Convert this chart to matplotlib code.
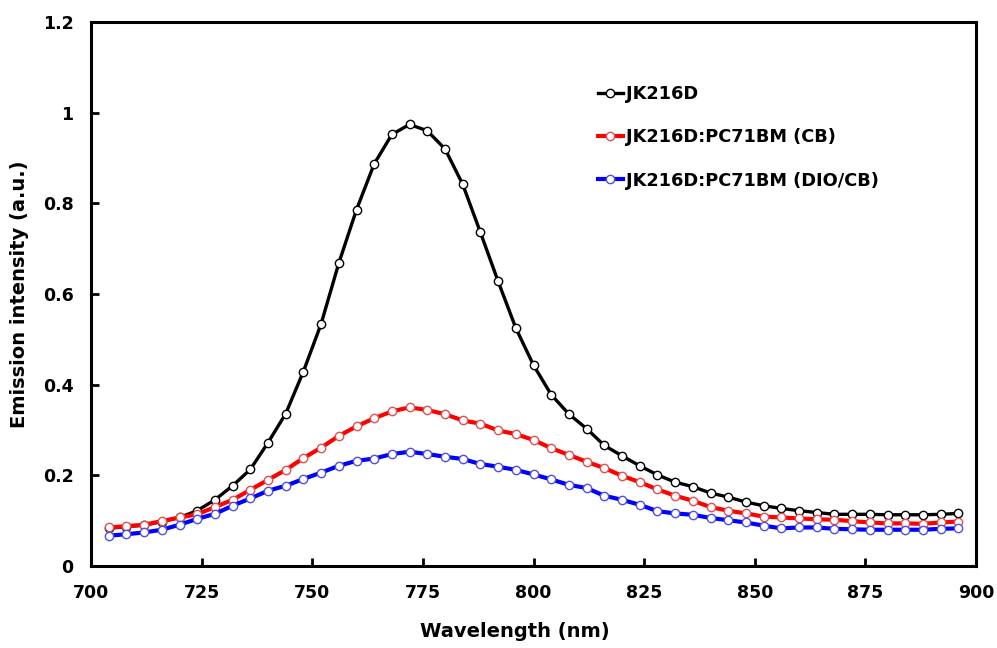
import matplotlib
matplotlib.use("Agg")
import matplotlib.pyplot as plt
from matplotlib.ticker import FixedLocator, FixedFormatter

plt.rcParams['font.family'] = ['DejaVu Sans']
plt.rcParams['font.weight'] = 'bold'

wavelength = list(range(704, 897, 4))

jk216d = [0.083, 0.087, 0.090, 0.098, 0.107, 0.122, 0.146, 0.177, 0.213, 0.272,
          0.336, 0.429, 0.534, 0.668, 0.786, 0.887, 0.952, 0.974, 0.960, 0.920,
          0.842, 0.736, 0.628, 0.525, 0.443, 0.378, 0.335, 0.303, 0.266, 0.243,
          0.221, 0.201, 0.185, 0.175, 0.161, 0.152, 0.141, 0.133, 0.127, 0.122,
          0.118, 0.114, 0.114, 0.114, 0.113, 0.113, 0.113, 0.114, 0.116]

jk_cb = [0.085, 0.088, 0.091, 0.099, 0.107, 0.114, 0.130, 0.146, 0.168, 0.190,
         0.212, 0.238, 0.261, 0.287, 0.308, 0.326, 0.341, 0.350, 0.344, 0.335,
         0.321, 0.314, 0.299, 0.291, 0.278, 0.260, 0.245, 0.230, 0.216, 0.199,
         0.185, 0.169, 0.155, 0.144, 0.130, 0.122, 0.116, 0.109, 0.107, 0.105,
         0.103, 0.102, 0.099, 0.096, 0.094, 0.094, 0.093, 0.096, 0.098]

jk_dio = [0.067, 0.070, 0.074, 0.080, 0.091, 0.104, 0.115, 0.133, 0.149, 0.166,
          0.177, 0.192, 0.206, 0.221, 0.232, 0.237, 0.247, 0.252, 0.247, 0.241,
          0.236, 0.225, 0.219, 0.212, 0.202, 0.191, 0.179, 0.172, 0.155, 0.146,
          0.135, 0.121, 0.116, 0.113, 0.106, 0.101, 0.096, 0.089, 0.083, 0.085,
          0.085, 0.082, 0.081, 0.080, 0.080, 0.080, 0.080, 0.082, 0.083]

labels = ["JK216D", "JK216D:PC71BM (CB)", "JK216D:PC71BM (DIO/CB)"]
x_ticks = [700, 725, 750, 775, 800, 825, 850, 875, 900]
y_ticks = [0, 0.2, 0.4, 0.6, 0.8, 1.0, 1.2]
y_tick_labels = ["0", "0.2", "0.4", "0.6", "0.8", "1", "1.2"]

fig = plt.figure(figsize=(9.97, 6.48), dpi=100)
ax = fig.add_axes([91/997, 82/648, 885/997, 544/648])

series = [(jk216d, '#000000', '#000000', 2.4),
          (jk_cb, '#ff0000', '#e05050', 3.0),
          (jk_dio, '#0000ff', '#5050e0', 3.0)]
for (ys, col, mec, lw), lab in zip(series, labels):
    ax.plot(wavelength, ys, color=col, lw=lw, marker='o', markersize=6,
            markerfacecolor='white', markeredgecolor=mec, markeredgewidth=1.0,
            label=lab)

ax.set_xlim(700, 900)
ax.set_ylim(0, 1.2)
ax.xaxis.set_major_locator(FixedLocator(x_ticks))
ax.yaxis.set_major_locator(FixedLocator(y_ticks))
ax.yaxis.set_major_formatter(FixedFormatter(y_tick_labels))
ax.tick_params(direction='in', length=6, width=2, labelsize=12.5)
ax.tick_params(axis='x', pad=13)
ax.tick_params(axis='y', pad=12.5)
for lbl in ax.get_xticklabels() + ax.get_yticklabels():
    lbl.set_fontweight('bold')
for sp in ax.spines.values():
    sp.set_linewidth(2.2)

ax.set_xlabel("Wavelength (nm)", fontsize=14, fontweight='bold')
ax.xaxis.set_label_coords(0.479, -0.103)
ax.set_ylabel("Emission intensity (a.u.)", fontsize=14, fontweight='bold', labelpad=10)

leg = ax.legend(loc='upper left', bbox_to_anchor=(0.5725, 0.884), frameon=False,
                fontsize=12.8, handlelength=1.4, handletextpad=0.2,
                labelspacing=1.42, borderpad=0, borderaxespad=0)
for t in leg.get_texts():
    t.set_fontweight('bold')

fig.savefig("out.png", dpi=100)
